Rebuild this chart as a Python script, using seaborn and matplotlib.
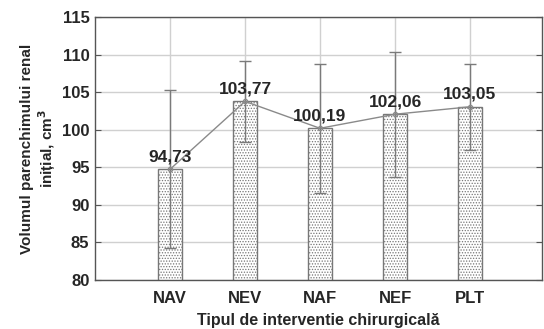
import matplotlib
matplotlib.use("Agg")
import matplotlib.pyplot as plt
import seaborn as sns
import pandas as pd

categories = ["NAV", "NEV", "NAF", "NEF", "PLT"]
means = [94.73, 103.77, 100.19, 102.06, 103.05]
err = [10.5, 5.4, 8.6, 8.3, 5.7]
labels = ["94,73", "103,77", "100,19", "102,06", "103,05"]
yticks = [80, 85, 90, 95, 100, 105, 110, 115]

sns.set_style("white")
plt.rcParams['font.family'] = ['Liberation Sans', 'DejaVu Sans']
plt.rcParams['hatch.color'] = '#9a9a9a'
plt.rcParams['hatch.linewidth'] = 0.6

df = pd.DataFrame({"cat": categories, "val": means})

fig = plt.figure(figsize=(5.44, 3.29), dpi=100)
fig.patch.set_facecolor('white')
ax = fig.add_axes([95/544, 49/329, 447/544, 263/329])

sns.barplot(data=df, x="cat", y="val", ax=ax, width=0.31, color='white',
            edgecolor='#777777', linewidth=1.0, errorbar=None, zorder=2)
for p in ax.patches:
    p.set_hatch('......')

ax.errorbar(range(len(categories)), means, yerr=err, fmt='none',
            ecolor='#7a7a7a', elinewidth=1.0, capsize=4, capthick=1.0, zorder=3)
ax.plot(range(len(categories)), means, color='#8a8a8a', lw=1.0, marker='o',
        ms=3, mfc='none', mec='#8a8a8a', zorder=4)

for i, (m, lab) in enumerate(zip(means, labels)):
    ax.annotate(lab, (i, m), xytext=(0, 3.5), textcoords='offset points',
                ha='center', va='bottom', fontsize=12.5, fontweight='bold', zorder=5)

ax.set_xlim(-1, 4.96)
ax.set_ylim(80, 115)
ax.set_yticks(yticks)
ax.set_yticklabels([str(t) for t in yticks], fontsize=12, fontweight='bold')
ax.set_xticks(range(len(categories)))
ax.set_xticklabels(categories, fontsize=12, fontweight='bold')
ax.grid(True, color='#d0d0d0', lw=1.0, zorder=0)
ax.set_axisbelow(True)
for s in ax.spines.values():
    s.set_color('#555555')
    s.set_linewidth(1.0)
ax.tick_params(axis='y', which='both', direction='in', right=True, left=True,
               length=4, color='#555555', pad=4)
ax.tick_params(axis='x', length=0, pad=8)

ax.set_xlabel("Tipul de interventie chirurgicală", fontsize=11.5, fontweight='bold', labelpad=5)
ax.set_ylabel("Volumul parenchimului renal\ninițial, cm$^\\mathbf{3}$", fontsize=11,
              fontweight='bold', labelpad=3, linespacing=1.1)

fig.savefig("out.png", dpi=100)
